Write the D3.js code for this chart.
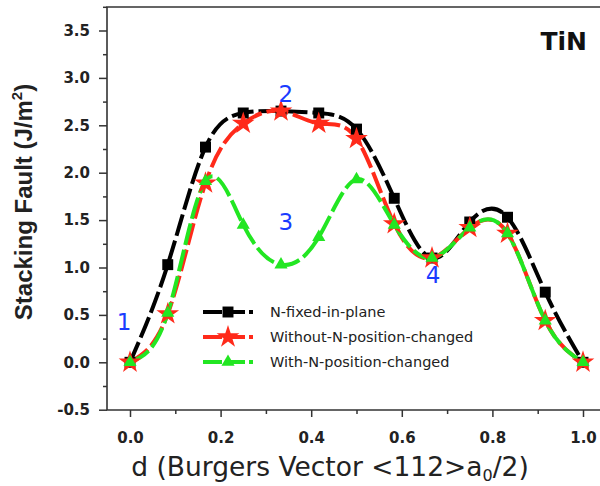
<!DOCTYPE html>
<html><head><meta charset="utf-8">
<script src="https://cdn.jsdelivr.net/npm/d3@7"></script>
<style>body{margin:0;background:#fff}svg{display:block}</style>
</head><body>
<svg id="c" width="600" height="486"></svg>
<script>
const dValues = [0, 1/12, 2/12, 3/12, 4/12, 5/12, 6/12, 7/12, 8/12, 9/12, 10/12, 11/12, 1];
const fixedInPlane = [0, 1.03, 2.27, 2.63, 2.65, 2.63, 2.46, 1.73, 1.10, 1.48, 1.53, 0.74, 0];
const withoutNChanged = [0, 0.51, 1.89, 2.52, 2.65, 2.52, 2.36, 1.46, 1.10, 1.42, 1.36, 0.44, 0];
const withNChanged = [0, 0.52, 1.91, 1.45, 1.03, 1.32, 1.93, 1.45, 1.10, 1.42, 1.36, 0.44, 0];
const seriesNames = ["N-fixed-in-plane", "Without-N-position-changed", "With-N-position-changed"];
const yTicks = [-0.5, 0.0, 0.5, 1.0, 1.5, 2.0, 2.5, 3.0, 3.5];
const xTicks = [0.0, 0.2, 0.4, 0.6, 0.8, 1.0];
const pointLabels = [{t:"1", x:-0.013, y:0.34}, {t:"2", x:0.344, y:2.75}, {t:"3", x:0.344, y:1.395}, {t:"4", x:0.669, y:0.836}];

(function(){
const svg = d3.select("#c");
const x = d3.scaleLinear().domain([0, 1]).range([130, 583]);
const y = d3.scaleLinear().domain([0, 3.5]).range([362.3, 30.5]);
const pLeft = 107, pTop = 7, pBottom = 410, pRight = 601;
const axisColor = "#333";
const wide = "DejaVu Sans, Verdana, sans-serif";
const arial = "Liberation Sans, Arial, sans-serif";
const fmt = v => d3.format(".1f")(v).replace("\u2212", "-");

const yAxis = d3.axisLeft(y).tickValues(yTicks).tickSize(8).tickPadding(9).tickFormat(fmt);
const yMinor = d3.axisLeft(y).tickValues(d3.range(-0.25, 3.76, 0.5)).tickSize(4).tickFormat("");
const xAxis = d3.axisBottom(x).tickValues(xTicks).tickSize(7).tickPadding(15).tickFormat(fmt);
const xMinor = d3.axisBottom(x).tickValues([0.1,0.3,0.5,0.7,0.9]).tickSize(4).tickFormat("");

function styleAxis(g){
  g.select(".domain").remove();
  g.selectAll("line").attr("stroke", axisColor).attr("stroke-width", 1.5);
  g.selectAll("text").attr("fill", "#222").attr("font-family", wide)
    .attr("font-weight", "bold").attr("font-size", 15);
}
svg.append("g").attr("transform", `translate(${pLeft},0)`).call(yAxis).call(styleAxis);
svg.append("g").attr("transform", `translate(${pLeft},0)`).call(yMinor).call(styleAxis);
svg.append("g").attr("transform", `translate(0,${pBottom})`).call(xAxis).call(styleAxis);
svg.append("g").attr("transform", `translate(0,${pBottom})`).call(xMinor).call(styleAxis);

svg.append("path").attr("d", `M${pRight},${pTop}H${pLeft}V${pBottom}H${pRight}`)
  .attr("fill", "none").attr("stroke", axisColor).attr("stroke-width", 1.6);

svg.append("text").attr("transform", `translate(32,202) rotate(-90)`)
  .attr("text-anchor", "middle").attr("font-family", arial)
  .attr("font-weight", "bold").attr("font-size", 24).attr("fill", "#222")
  .html('Stacking Fault (J/m<tspan dy="-10" font-size="15">2</tspan><tspan dy="10">)</tspan>');
svg.append("text").attr("x", 330).attr("y", 476).attr("text-anchor", "middle")
  .attr("font-family", wide).attr("font-size", 26.5).attr("fill", "#222")
  .html('d (Burgers Vector &lt;112&gt;a<tspan dy="5" font-size="16">0</tspan><tspan dy="-5">/2)</tspan>');

svg.append("text").attr("x", 587).attr("y", 50).attr("text-anchor", "end")
  .attr("font-family", wide).attr("font-weight", "bold")
  .attr("font-size", 25).attr("fill", "#111").text("TiN");

const series = [
  {vals: fixedInPlane, color: "#000", marker: "square"},
  {vals: withoutNChanged, color: "#ff2a1a", marker: "star"},
  {vals: withNChanged, color: "#22e622", marker: "triangle"}
];
const line = d3.line().x((d,i)=>x(dValues[i])).y(d=>y(d)).curve(d3.curveNatural);
const symbols = {square: d3.symbolSquare, star: d3.symbolStar, triangle: d3.symbolTriangle};
const sizes = {square: 120, star: 160, triangle: 75};

series.forEach(s => {
  svg.append("path").datum(s.vals).attr("d", line).attr("fill", "none")
    .attr("stroke", s.color).attr("stroke-width", 4).attr("stroke-dasharray", "22,5")
    .attr("stroke-linecap", "butt");
});
series.forEach(s => {
  svg.append("g").selectAll("path").data(s.vals).join("path")
    .attr("transform", (d,i)=>`translate(${x(dValues[i])},${y(d)})`)
    .attr("d", d3.symbol().type(symbols[s.marker]).size(sizes[s.marker]))
    .attr("fill", s.color);
});

svg.append("g").selectAll("text").data(pointLabels).join("text")
  .attr("x", d=>x(d.x)).attr("y", d=>y(d.y)).attr("text-anchor", "middle")
  .attr("font-family", wide).attr("font-size", 23)
  .attr("fill", "#1a3cff").text(d=>d.t);

const leg = svg.append("g");
series.forEach((s, i) => {
  const ly = 312 + i * 25;
  leg.append("line").attr("x1", 203).attr("x2", 253).attr("y1", ly).attr("y2", ly)
    .attr("stroke", s.color).attr("stroke-width", 4).attr("stroke-dasharray", "19,4");
  leg.append("path").attr("transform", `translate(228,${ly})`)
    .attr("d", d3.symbol().type(symbols[s.marker]).size(sizes[s.marker])).attr("fill", s.color);
  leg.append("text").attr("x", 270).attr("y", ly + 5).attr("font-family", wide)
    .attr("font-size", 14.5).attr("fill", "#222").text(seriesNames[i]);
});
})();
</script>
</body></html>
